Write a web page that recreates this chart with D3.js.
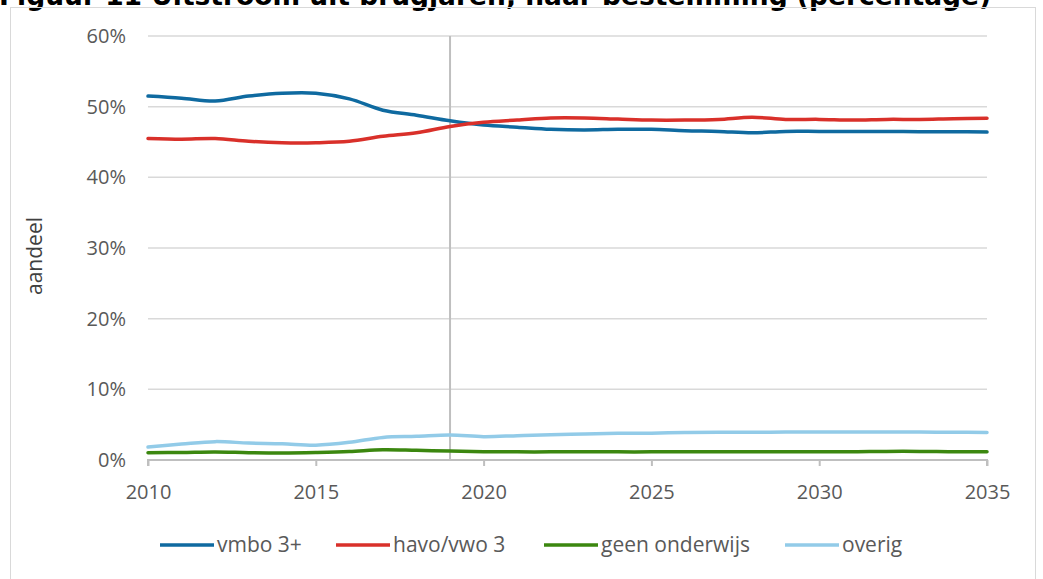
<!DOCTYPE html>
<html>
<head>
<meta charset="utf-8">
<script src="https://cdn.jsdelivr.net/npm/d3@7"></script>
<style>
  body { margin: 0; background: #fff; }
  svg { display: block; }
</style>
</head>
<body>
<script>
const years = d3.range(2010, 2036);
const vmbo = [51.5, 51.2, 50.8, 51.5, 51.9, 51.9, 51.1, 49.5, 48.8, 48.0, 47.4, 47.1, 46.8, 46.7, 46.8, 46.8, 46.6, 46.5, 46.3, 46.5, 46.5, 46.5, 46.5, 46.45, 46.45, 46.4];
const havo = [45.5, 45.4, 45.5, 45.1, 44.9, 44.9, 45.1, 45.8, 46.3, 47.2, 47.8, 48.1, 48.4, 48.4, 48.25, 48.1, 48.1, 48.2, 48.5, 48.2, 48.2, 48.1, 48.2, 48.2, 48.3, 48.35];
const geen = [1.04, 1.07, 1.13, 1.04, 1.0, 1.07, 1.2, 1.46, 1.37, 1.27, 1.18, 1.15, 1.15, 1.15, 1.15, 1.15, 1.17, 1.18, 1.18, 1.18, 1.18, 1.18, 1.22, 1.22, 1.18, 1.18];
const overig = [1.84, 2.26, 2.6, 2.4, 2.3, 2.1, 2.5, 3.2, 3.35, 3.54, 3.3, 3.44, 3.58, 3.68, 3.77, 3.8, 3.88, 3.91, 3.93, 3.95, 3.95, 3.95, 3.97, 3.95, 3.93, 3.9];
const seriesNames = ["vmbo 3+", "havo/vwo 3", "geen onderwijs", "overig"];
const yTicks = [0, 10, 20, 30, 40, 50, 60];
const xTicks = [2010, 2015, 2020, 2025, 2030, 2035];
const markerYear = 2019;
const title = "Figuur 11 Uitstroom uit brugjaren, naar bestemming (percentage)";

const colors = ["#0f6aa0", "#d9302a", "#3b870f", "#92cbe8"];
const allSeries = [vmbo, havo, geen, overig];

const W = 1043, H = 579;
const plotLeft = 148, plotRight = 987, plotTop = 36, plotBottom = 460;
const font = "'Open Sans', sans-serif";

const svg = d3.select("body").append("svg").attr("width", W).attr("height", H);

// title, cut off by the top of the page like in the source
svg.append("text")
  .attr("x", -1).attr("y", 5)
  .attr("font-family", "'DejaVu Sans', Verdana, sans-serif")
  .attr("font-weight", "bold")
  .attr("font-size", 26.5)
  .attr("fill", "#000")
  .text(title);

// chart frame
svg.append("rect")
  .attr("x", 10.5).attr("y", 7.5).attr("width", 1025).attr("height", 600)
  .attr("fill", "none").attr("stroke", "#d9d9d9").attr("stroke-width", 1);

const x = d3.scaleLinear().domain([2010, 2035]).range([plotLeft, plotRight]);
const y = d3.scaleLinear().domain([0, 60]).range([plotBottom, plotTop]);

// gridlines
svg.append("g").selectAll("line")
  .data(yTicks.filter(d => d > 0)).enter().append("line")
  .attr("x1", plotLeft).attr("x2", plotRight)
  .attr("y1", d => y(d)).attr("y2", d => y(d))
  .attr("stroke", "#d9d9d9").attr("stroke-width", 1.5);

// y labels
svg.append("g").selectAll("text")
  .data(yTicks).enter().append("text")
  .attr("x", 126).attr("y", d => y(d)).attr("dy", "0.35em")
  .attr("text-anchor", "end")
  .attr("font-family", font).attr("font-size", 20).attr("fill", "#595959")
  .text(d => d + "%");

svg.append("text")
  .attr("transform", "translate(42,256) rotate(-90)")
  .attr("text-anchor", "middle")
  .attr("font-family", font).attr("font-size", 21).attr("fill", "#404040")
  .text("aandeel");

// vertical marker
svg.append("line")
  .attr("x1", x(markerYear)).attr("x2", x(markerYear))
  .attr("y1", plotTop).attr("y2", plotBottom)
  .attr("stroke", "#bfbfbf").attr("stroke-width", 2);

// x axis
const xAxis = svg.append("g")
  .attr("transform", "translate(0," + plotBottom + ")")
  .call(d3.axisBottom(x).tickValues(xTicks).tickFormat(d3.format("d")).tickSize(6).tickPadding(19));
xAxis.select(".domain").attr("stroke", "#bfbfbf").attr("stroke-width", 2)
  .attr("d", "M" + plotLeft + ",6V0H" + plotRight + "V6");
xAxis.selectAll(".tick line").attr("stroke", "#bfbfbf").attr("stroke-width", 2);
xAxis.selectAll(".tick text")
  .attr("font-family", font).attr("font-size", 20).attr("fill", "#595959");

// lines
const line = d3.line()
  .x((d, i) => x(years[i]))
  .y(d => y(d))
  .curve(d3.curveCatmullRom);

svg.append("g").selectAll("path")
  .data(allSeries).enter().append("path")
  .attr("d", line)
  .attr("fill", "none")
  .attr("stroke", (d, i) => colors[i])
  .attr("stroke-width", 3.5)
  .attr("stroke-linecap", "round");

// legend
const legendX = [160, 336, 544, 785];
const legend = svg.append("g");
seriesNames.forEach((name, i) => {
  legend.append("line")
    .attr("x1", legendX[i]).attr("x2", legendX[i] + 54)
    .attr("y1", 545).attr("y2", 545)
    .attr("stroke", colors[i]).attr("stroke-width", 3.5);
  legend.append("text")
    .attr("x", legendX[i] + 57).attr("y", 545).attr("dy", "0.35em")
    .attr("font-family", font).attr("font-size", 21).attr("fill", "#595959")
    .text(name);
});
</script>
</body>
</html>
